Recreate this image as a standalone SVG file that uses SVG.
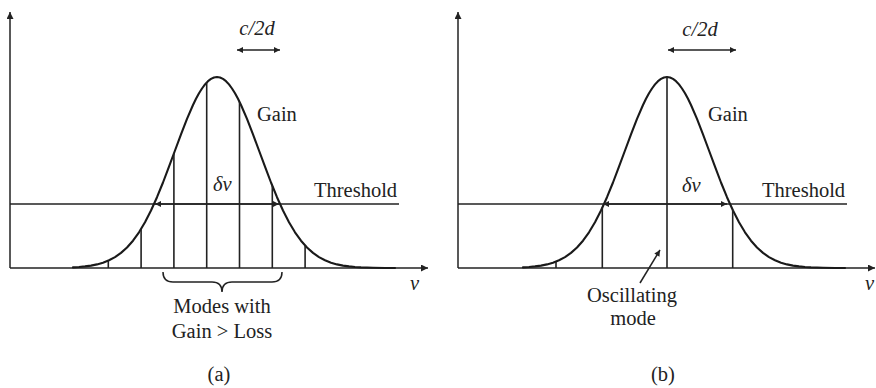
<svg xmlns="http://www.w3.org/2000/svg" xmlns:xlink="http://www.w3.org/1999/xlink" width="876" height="388" viewBox="0 0 876 388">
<style>
.ax{stroke:#222;stroke-width:1.5;fill:none}
.cv{stroke:#1a1a1a;stroke-width:2.1;fill:none;stroke-linejoin:round;stroke-linecap:round}
.md{stroke:#222;stroke-width:1.6}
.th{stroke:#222;stroke-width:1.6}
.ar{stroke:#222;stroke-width:1.5;fill:none}
.tx{font-family:'Liberation Serif','Times New Roman','DejaVu Serif',serif;font-size:20.5px;fill:#222}
.it{font-style:italic}
.mid{text-anchor:middle}
</style>
<defs>
<marker id="big" viewBox="0 0 10 10" refX="10" refY="5" markerWidth="9" markerHeight="7" orient="auto-start-reverse" markerUnits="userSpaceOnUse"><path d="M0,0 L10,5 L0,10 z" fill="#222"/></marker>
<marker id="sm" viewBox="0 0 10 10" refX="10" refY="5" markerWidth="8" markerHeight="6" orient="auto-start-reverse" markerUnits="userSpaceOnUse"><path d="M0,0 L10,5 L0,10 z" fill="#222"/></marker>
<path id="gauss" d="M-144,-0.6 L-138,-1 -132,-1.6 -126,-2.4 -120,-3.6 -114,-5.3 -108,-7.7 -102,-10.9 -96,-15.1 -90,-20.5 -84,-27.3 -78,-35.7 -72,-45.8 -66,-57.5 -60,-70.8 -54,-85.5 -48,-101.3 -42,-117.5 -36,-133.7 -30,-149.1 -24,-163 -21,-169.2 -18,-174.7 -15,-179.5 -12,-183.6 -9,-186.8 -6,-189.1 -3,-190.5 0,-191 3,-190.5 6,-189.1 9,-186.8 12,-183.6 15,-179.5 18,-174.7 21,-169.2 24,-163 30,-149.1 36,-133.7 42,-117.5 48,-101.3 54,-85.5 60,-70.8 66,-57.5 72,-45.8 78,-35.7 84,-27.3 90,-20.5 96,-15.1 102,-10.9 108,-7.7 114,-5.3 120,-3.6 126,-2.4 132,-1.6 138,-1 144,-0.6 156,-0.2 168,-0.05 178,0"/>
</defs>

<g id="panel-a">
  <g id="a-axes">
    <line class="ax" x1="10" y1="268" x2="10" y2="12" marker-end="url(#big)"/>
    <line class="ax" x1="10" y1="268" x2="428" y2="268" marker-end="url(#big)"/>
  </g>
  <g id="a-threshold">
    <line class="th" x1="10" y1="204" x2="399" y2="204"/>
  </g>
  <g id="a-gain">
    <use xlink:href="#gauss" class="cv" transform="translate(217,268)"/>
  </g>
  <g id="a-modes">
    <line class="md" x1="108.3" y1="268" x2="108.3" y2="260.6"/>
    <line class="md" x1="141.1" y1="268" x2="141.1" y2="228.9"/>
    <line class="md" x1="173.9" y1="268" x2="173.9" y2="153.5"/>
    <line class="md" x1="206.7" y1="268" x2="206.7" y2="82.5"/>
    <line class="md" x1="239.5" y1="268" x2="239.5" y2="101.9"/>
    <line class="md" x1="272.3" y1="268" x2="272.3" y2="185.8"/>
    <line class="md" x1="305.1" y1="268" x2="305.1" y2="245.5"/>
  </g>
  <g id="a-brace">
    <path class="ar" d="M163,272 Q163,282 173,282 L212,282 Q222,282 222,292 Q222,282 232,282 L272,282 Q282,282 282,272"/>
  </g>
  <g id="a-labels" class="tx" font-family="Liberation Serif, Times New Roman, serif">
    <text class="it mid" x="257" y="35">c/2d</text>
    <text x="257" y="121">Gain</text>
    <text class="it" x="213" y="191">δν</text>
    <text x="314" y="197">Threshold</text>
    <text class="it" x="410" y="290">ν</text>
    <text class="mid" x="222" y="313">Modes with</text>
    <text class="mid" x="222" y="338">Gain &gt; Loss</text>
    <text class="mid" x="219" y="381">(a)</text>
  </g>
</g>

<g id="panel-b">
  <g id="b-axes">
    <line class="ax" x1="458" y1="268" x2="458" y2="12" marker-end="url(#big)"/>
    <line class="ax" x1="458" y1="268" x2="875" y2="268" marker-end="url(#big)"/>
  </g>
  <g id="b-threshold">
    <line class="th" x1="458" y1="204" x2="847" y2="204"/>
  </g>
  <g id="b-gain">
    <use xlink:href="#gauss" class="cv" transform="translate(667,268)"/>
  </g>
  <g id="b-modes">
    <line class="md" x1="556" y1="268" x2="556" y2="261.7"/>
    <line class="md" x1="602.3" y1="268" x2="602.3" y2="207.7"/>
    <line class="md" x1="667" y1="268" x2="667" y2="77"/>
    <line class="md" x1="732.7" y1="268" x2="732.7" y2="209.8"/>
  </g>
  <g id="b-labels" class="tx" font-family="Liberation Serif, Times New Roman, serif">
    <text class="it mid" x="700" y="36">c/2d</text>
    <text x="708" y="121">Gain</text>
    <text class="it" x="682" y="192">δν</text>
    <text x="762" y="197">Threshold</text>
    <text class="it" x="865" y="290">ν</text>
    <text class="mid" x="632" y="302">Oscillating</text>
    <text class="mid" x="633" y="325">mode</text>
    <text class="mid" x="663" y="381">(b)</text>
  </g>
</g>

<g id="connectors">
  <line class="ar" x1="237" y1="50" x2="280" y2="50" marker-start="url(#sm)" marker-end="url(#sm)"/>
  <line class="ar" x1="155" y1="204" x2="279" y2="204" marker-start="url(#sm)" marker-end="url(#sm)"/>
  <line class="ar" x1="668" y1="50" x2="736" y2="50" marker-start="url(#sm)" marker-end="url(#sm)"/>
  <line class="ar" x1="603" y1="204" x2="727" y2="204" marker-start="url(#sm)" marker-end="url(#sm)"/>
  <line class="ar" x1="640" y1="283" x2="660" y2="250" marker-end="url(#sm)"/>
</g>
</svg>
